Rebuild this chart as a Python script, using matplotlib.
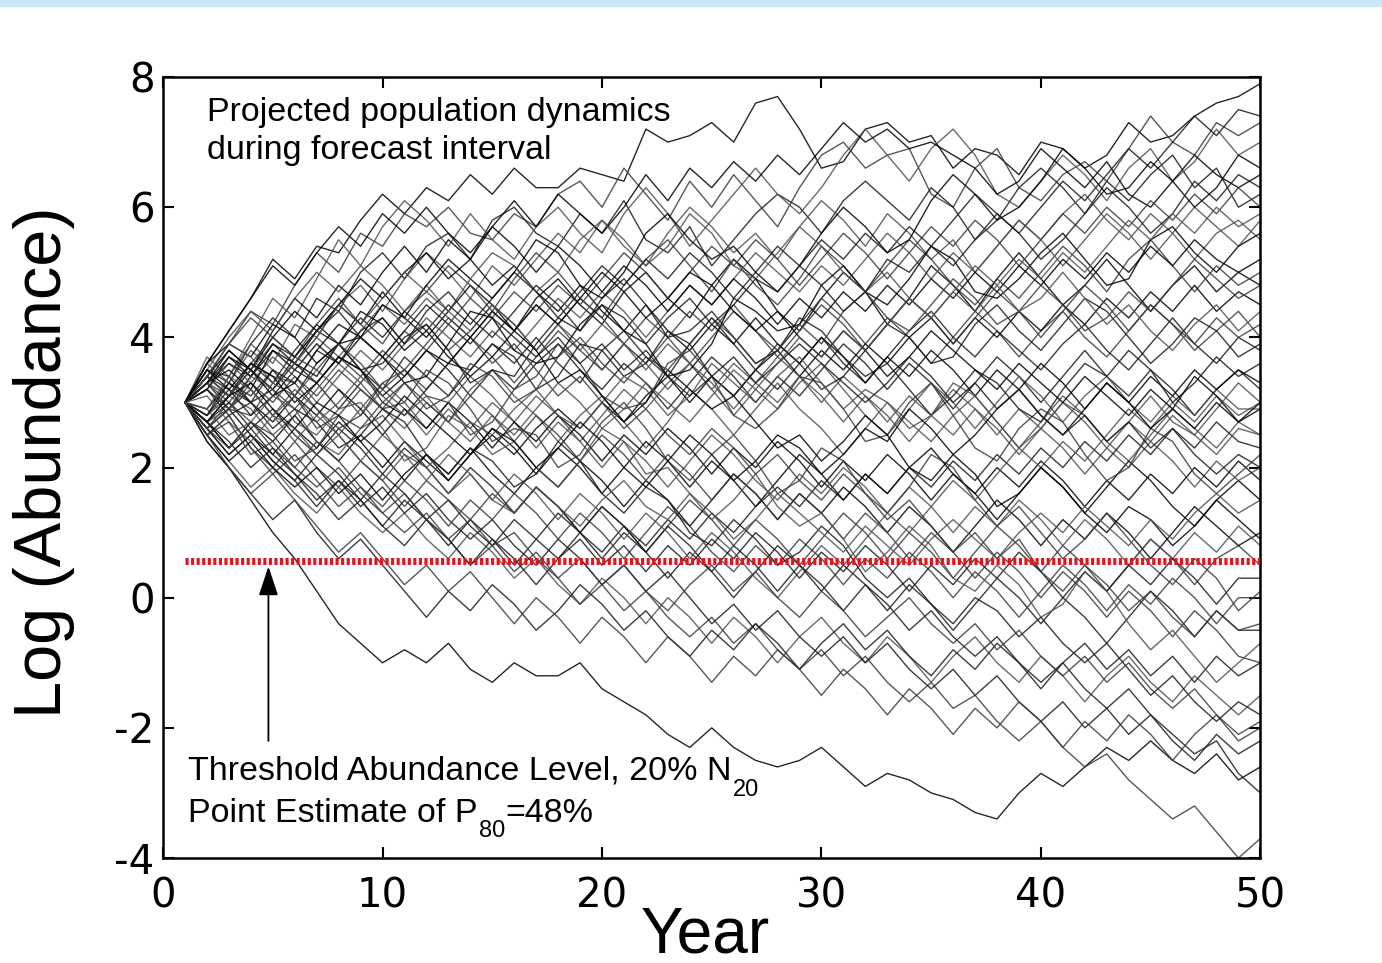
import matplotlib
matplotlib.use("Agg")
import matplotlib.pyplot as plt
from matplotlib.patches import Rectangle

plt.rcParams['font.family'] = ['Liberation Sans', 'DejaVu Sans']
plt.rcParams['axes.unicode_minus'] = False

# projected years of the forecast interval
years = list(range(1, 51))

# simulated log abundance trajectories (approx.)
run_01 = [3.0, 3.6, 4.1, 4.6, 5.2, 4.9, 5.4, 5.3, 5.8, 6.2,
          5.9, 6.3, 6.1, 6.5, 6.2, 6.6, 6.3, 6.3, 6.6, 6.5,
          6.4, 7.2, 7.0, 7.1, 7.3, 7.0, 7.6, 7.7, 7.2, 6.6,
          6.7, 7.2, 7.3, 7.0, 7.1, 6.6, 6.9, 6.8, 6.5, 7.0,
          6.9, 6.6, 6.8, 7.3, 7.0, 7.1, 7.4, 7.6, 7.7, 7.9]
run_02 = [3.0, 3.4, 3.9, 4.4, 4.2, 4.8, 5.3, 5.0, 5.6, 5.4,
          5.9, 5.7, 6.0, 5.6, 5.5, 5.9, 5.7, 6.2, 6.4, 6.0,
          6.6, 6.2, 5.8, 6.4, 6.0, 6.5, 6.1, 5.7, 6.3, 6.8,
          7.0, 6.6, 6.8, 6.9, 6.2, 6.0, 6.6, 6.9, 6.3, 6.1,
          6.5, 6.7, 6.4, 6.9, 7.4, 7.0, 6.8, 7.3, 7.1, 7.3]
run_03 = [3.0, 3.5, 3.3, 3.9, 4.3, 4.0, 4.6, 4.4, 5.0, 5.3,
          4.9, 5.4, 5.6, 5.2, 5.8, 6.0, 5.6, 5.4, 5.9, 5.6,
          6.1, 5.5, 5.3, 5.7, 5.1, 5.5, 5.9, 6.2, 6.0, 5.6,
          6.1, 6.4, 6.1, 5.8, 6.3, 6.0, 5.5, 5.8, 6.3, 6.6,
          6.3, 5.9, 6.4, 6.1, 6.5, 6.8, 6.3, 6.6, 6.0, 6.2]
run_04 = [3.0, 2.8, 3.4, 3.9, 3.6, 4.2, 4.0, 4.5, 4.8, 4.4,
          4.9, 5.3, 5.0, 4.6, 5.1, 4.8, 5.2, 5.6, 5.3, 5.8,
          5.5, 5.1, 5.6, 6.0, 5.7, 5.3, 5.6, 5.2, 5.7, 6.1,
          5.8, 5.4, 5.9, 5.6, 5.2, 5.5, 5.0, 5.4, 5.8, 5.5,
          5.9, 6.2, 5.8, 5.5, 5.9, 5.6, 5.2, 5.6, 5.8, 5.5]
run_05 = [3.0, 3.3, 3.7, 3.4, 3.9, 3.6, 4.1, 4.5, 4.2, 4.7,
          4.3, 4.0, 4.4, 4.8, 4.5, 4.1, 4.6, 4.9, 4.5, 4.2,
          4.7, 5.0, 4.6, 4.3, 4.8, 5.2, 4.9, 4.4, 4.1, 4.6,
          5.0, 4.7, 4.2, 4.6, 5.1, 4.8, 4.4, 4.9, 5.3, 4.9,
          4.5, 4.8, 5.2, 4.8, 4.4, 4.8, 5.1, 4.7, 5.0, 4.8]
run_06 = [3.0, 3.2, 2.9, 3.4, 3.8, 3.5, 3.9, 3.6, 4.0, 4.3,
          3.9, 4.2, 3.8, 4.1, 4.5, 4.2, 3.8, 4.2, 4.6, 4.3,
          3.9, 3.6, 4.0, 4.4, 4.1, 4.5, 4.1, 3.8, 4.2, 4.6,
          4.3, 3.9, 4.3, 4.0, 3.6, 4.0, 4.4, 4.1, 3.7, 4.1,
          4.4, 4.0, 3.7, 4.1, 4.5, 4.2, 3.8, 4.1, 4.4, 4.0]
run_07 = [3.0, 3.4, 3.1, 3.5, 3.2, 3.6, 3.3, 2.9, 3.3, 3.7,
          3.4, 3.8, 3.5, 3.1, 3.5, 3.2, 3.6, 3.9, 3.5, 3.2,
          3.6, 3.3, 2.9, 3.3, 3.7, 3.4, 3.0, 3.4, 3.1, 3.5,
          3.9, 3.6, 3.2, 3.6, 3.3, 2.9, 3.3, 3.7, 3.4, 3.0,
          3.4, 3.8, 3.4, 3.1, 3.5, 3.2, 2.8, 3.2, 3.5, 3.2]
run_08 = [3.0, 2.7, 3.1, 2.9, 2.5, 2.8, 3.2, 3.6, 3.3, 2.9,
          2.6, 3.0, 2.7, 3.2, 3.5, 3.1, 2.8, 2.4, 2.8, 3.1,
          2.7, 2.3, 2.7, 3.2, 2.9, 2.5, 2.9, 3.3, 2.9, 2.6,
          2.2, 2.6, 3.0, 2.7, 2.4, 2.8, 3.1, 2.7, 2.3, 2.7,
          3.1, 2.8, 2.4, 2.1, 2.5, 2.9, 2.6, 2.3, 2.7, 2.5]
run_09 = [3.0, 2.6, 2.9, 2.5, 2.2, 2.6, 2.3, 2.7, 2.4, 2.0,
          2.4, 2.1, 1.8, 2.2, 2.6, 2.3, 1.9, 2.3, 2.0, 1.6,
          2.0, 2.4, 2.1, 1.7, 2.1, 1.8, 1.4, 1.8, 2.2, 1.9,
          1.5, 1.9, 1.6, 2.0, 2.3, 1.9, 1.6, 1.2, 1.6, 2.0,
          1.7, 1.3, 1.7, 2.1, 1.8, 1.4, 1.1, 1.5, 1.8, 1.5]
run_10 = [3.0, 2.5, 2.8, 2.3, 2.0, 2.4, 2.0, 1.7, 2.1, 1.8,
          1.4, 1.8, 1.5, 1.2, 1.6, 1.3, 1.7, 1.4, 1.0, 1.4,
          1.1, 0.7, 1.1, 1.5, 1.2, 0.8, 1.2, 0.9, 0.5, 0.9,
          1.3, 1.0, 0.6, 1.0, 0.7, 0.3, 0.7, 1.1, 0.8, 0.4,
          0.8, 0.5, 0.1, 0.5, 0.9, 0.6, 0.2, 0.6, 0.8, 0.5]
run_11 = [3.0, 2.6, 2.2, 2.5, 2.1, 1.8, 2.2, 1.9, 1.5, 1.9,
          1.6, 1.2, 1.5, 1.1, 0.8, 1.2, 0.9, 1.3, 1.0, 0.6,
          1.0, 0.7, 0.3, 0.7, 0.4, 0.0, 0.4, 0.8, 0.5, 0.1,
          0.5, 0.2, -0.2, 0.2, -0.1, -0.5, -0.1, 0.3, 0.0, -0.4,
          0.0, -0.3, -0.7, -0.3, 0.1, -0.2, -0.6, -0.2, -0.5, -0.5]
run_12 = [3.0, 2.5, 2.1, 1.7, 2.0, 1.6, 1.3, 1.7, 1.3, 1.0,
          1.3, 0.9, 0.6, 1.0, 0.7, 0.3, 0.6, 0.2, -0.1, 0.3,
          0.0, -0.4, 0.0, -0.3, -0.7, -0.3, -0.6, -1.0, -0.6, -0.3,
          -0.7, -1.0, -0.6, -0.9, -1.3, -0.9, -0.6, -1.0, -1.3, -0.9,
          -1.2, -1.6, -1.2, -0.9, -1.3, -1.6, -1.2, -1.5, -1.8, -1.5]
run_13 = [3.0, 2.4, 2.0, 1.5, 1.0, 0.6, 0.1, -0.4, -0.7, -1.0,
          -0.8, -1.0, -0.7, -1.1, -1.3, -1.0, -1.2, -1.2, -1.0, -1.4,
          -1.6, -1.8, -2.1, -2.3, -2.0, -2.3, -2.5, -2.6, -2.5, -2.3,
          -2.6, -2.9, -2.7, -2.8, -3.0, -3.1, -3.3, -3.4, -3.0, -2.7,
          -2.9, -2.6, -2.3, -2.5, -2.2, -2.5, -2.7, -2.4, -2.8, -2.6]
run_14 = [3.0, 2.5, 2.8, 2.3, 1.9, 2.2, 1.8, 1.4, 1.7, 1.3,
          1.0, 1.3, 0.9, 0.5, 0.8, 0.4, 0.7, 0.3, -0.1, 0.2,
          -0.2, 0.1, -0.3, -0.6, -0.3, -0.7, -0.4, -0.8, -1.1, -0.8,
          -1.2, -0.9, -1.3, -1.6, -1.3, -1.7, -1.5, -1.9, -2.2, -1.9,
          -2.3, -2.6, -2.4, -2.8, -3.1, -3.4, -3.2, -3.6, -4.0, -3.7]
run_15 = [3.0, 2.7, 2.3, 2.6, 2.2, 1.9, 1.5, 1.8, 1.4, 1.7,
          1.3, 1.6, 1.2, 0.9, 1.2, 0.8, 0.5, 0.9, 0.6, 0.2,
          0.5, 0.1, 0.4, 0.0, -0.4, -0.1, -0.5, -0.2, -0.6, -0.9,
          -0.6, -1.0, -0.7, -1.1, -1.4, -1.1, -1.5, -1.2, -1.6, -1.9,
          -1.6, -2.0, -1.7, -2.1, -1.8, -2.2, -2.5, -2.1, -2.4, -2.2]
run_16 = [3.0, 3.7, 3.4, 4.0, 4.6, 4.3, 4.9, 5.5, 5.1, 5.7,
          6.1, 5.8, 5.4, 5.9, 5.5, 5.2, 5.7, 6.0, 5.6, 5.3,
          5.9, 6.3, 5.9, 5.4, 5.8, 6.2, 6.6, 6.2, 5.9, 6.3,
          6.8, 7.2, 6.8, 6.4, 6.9, 7.2, 6.8, 6.2, 6.0, 6.4,
          6.8, 6.5, 6.1, 6.6, 6.9, 6.4, 6.7, 7.2, 6.8, 7.0]
run_17 = [3.0, 3.3, 3.8, 3.5, 4.1, 4.6, 4.3, 4.8, 4.5, 5.0,
          5.4, 5.0, 5.5, 5.2, 5.7, 6.1, 5.7, 6.2, 5.9, 5.6,
          6.0, 6.5, 6.1, 6.6, 6.3, 6.7, 6.4, 6.8, 6.5, 6.9,
          7.3, 7.0, 7.2, 6.9, 7.0, 6.8, 6.6, 6.2, 6.4, 6.9,
          6.6, 6.3, 6.7, 6.2, 6.0, 6.4, 6.8, 6.5, 6.3, 6.5]
run_18 = [3.0, 3.4, 3.9, 4.3, 4.0, 3.7, 4.2, 4.6, 4.2, 3.9,
          4.4, 4.7, 5.1, 4.8, 4.4, 4.9, 5.3, 5.0, 4.6, 4.3,
          4.8, 5.2, 5.5, 5.1, 4.7, 5.2, 4.8, 4.5, 4.9, 5.4,
          5.1, 4.7, 5.1, 5.5, 5.2, 4.8, 4.5, 4.9, 4.6, 5.0,
          5.4, 5.1, 4.7, 5.2, 5.5, 5.1, 4.7, 5.1, 4.8, 5.0]
run_19 = [3.0, 2.8, 3.2, 3.0, 3.5, 3.1, 3.6, 3.9, 3.5, 3.2,
          3.7, 3.4, 3.1, 3.5, 3.9, 3.6, 4.0, 3.6, 3.3, 3.8,
          4.1, 3.7, 3.4, 3.9, 4.3, 3.9, 3.5, 3.2, 3.6, 4.0,
          3.6, 3.3, 3.7, 4.1, 4.4, 4.0, 3.7, 4.1, 3.8, 3.5,
          3.9, 4.2, 3.8, 3.5, 3.9, 4.3, 3.9, 3.6, 4.0, 3.8]
run_20 = [3.0, 3.3, 2.9, 3.2, 2.8, 3.2, 2.9, 2.5, 2.9, 3.3,
          3.0, 2.6, 3.0, 3.4, 3.1, 2.7, 3.1, 2.8, 2.4, 2.8,
          3.2, 2.9, 3.3, 3.6, 3.2, 2.8, 3.2, 2.9, 3.3, 3.6,
          3.2, 2.8, 2.5, 2.9, 3.3, 3.0, 2.6, 3.0, 3.4, 3.1,
          2.7, 3.1, 3.4, 3.0, 2.7, 3.1, 2.8, 3.2, 2.9, 2.9]
run_21 = [3.0, 2.7, 2.3, 2.7, 2.4, 2.8, 2.4, 2.1, 2.5, 2.2,
          1.8, 2.2, 1.9, 2.3, 1.9, 1.6, 2.0, 1.7, 2.1, 1.8,
          1.4, 1.8, 1.5, 1.1, 1.5, 1.9, 1.6, 1.2, 1.6, 1.3,
          1.7, 1.4, 1.0, 1.4, 1.1, 0.7, 1.1, 1.5, 1.2, 0.8,
          1.2, 0.9, 1.3, 1.0, 0.6, 1.0, 1.4, 1.1, 0.8, 1.0]
run_22 = [3.0, 2.6, 3.0, 2.7, 2.3, 2.0, 2.4, 2.1, 1.7, 1.4,
          1.8, 1.5, 1.1, 1.5, 1.2, 1.6, 1.3, 0.9, 1.3, 1.0,
          0.6, 1.0, 1.4, 1.1, 0.7, 0.4, 0.8, 0.5, 0.9, 0.6,
          0.2, 0.6, 0.3, 0.7, 0.4, 0.0, 0.4, 0.1, -0.3, 0.1,
          0.5, 0.2, -0.2, 0.2, -0.1, 0.3, 0.0, -0.4, 0.0, 0.0]
run_23 = [3.0, 2.4, 2.0, 1.6, 1.2, 1.5, 1.0, 0.6, 0.9, 0.5,
          0.1, -0.3, 0.1, -0.2, 0.2, -0.1, -0.5, -0.2, 0.2, -0.1,
          -0.5, -0.2, -0.6, -0.9, -0.5, -0.8, -0.4, -0.7, -1.1, -0.7,
          -0.4, -0.8, -0.5, -0.9, -1.2, -0.8, -1.1, -0.7, -1.0, -1.4,
          -1.0, -0.7, -1.1, -0.8, -1.2, -0.9, -1.3, -0.9, -1.2, -1.0]
run_24 = [3.0, 3.5, 4.0, 4.4, 4.1, 4.6, 5.0, 4.7, 5.1, 4.8,
          4.4, 4.8, 4.4, 4.1, 4.5, 4.2, 3.8, 4.2, 3.9, 3.5,
          3.9, 3.6, 3.2, 3.6, 3.3, 2.9, 3.3, 3.0, 3.4, 3.1,
          2.7, 3.1, 2.8, 2.4, 2.8, 2.5, 2.9, 2.6, 2.2, 2.6,
          2.3, 1.9, 2.3, 2.0, 2.4, 2.1, 1.7, 2.1, 1.8, 2.0]
run_25 = [3.0, 2.5, 2.1, 2.4, 2.0, 1.7, 2.0, 1.6, 1.9, 1.5,
          1.9, 2.2, 1.8, 2.2, 2.5, 2.2, 2.6, 2.9, 2.6, 3.0,
          2.7, 3.1, 3.4, 3.0, 3.4, 3.1, 3.5, 3.8, 3.4, 3.8,
          3.5, 3.9, 3.6, 4.0, 4.3, 3.9, 4.3, 4.0, 4.4, 4.1,
          4.5, 4.2, 4.6, 4.3, 4.7, 4.4, 4.8, 4.4, 4.7, 4.5]
run_26 = [3.0, 3.3, 3.0, 3.4, 3.8, 3.5, 3.9, 3.6, 4.0, 3.7,
          4.1, 3.8, 4.2, 4.6, 4.3, 4.7, 4.4, 4.8, 4.5, 4.9,
          5.3, 5.0, 4.6, 5.0, 5.4, 5.1, 5.5, 5.2, 4.8, 5.2,
          5.6, 5.3, 4.9, 5.3, 5.7, 5.4, 5.8, 5.5, 5.1, 5.5,
          5.9, 5.6, 6.0, 5.7, 6.1, 5.8, 6.2, 5.9, 6.3, 6.0]
run_27 = [3.0, 2.7, 3.0, 2.6, 2.9, 2.5, 2.2, 2.6, 2.3, 1.9,
          2.3, 2.0, 1.6, 2.0, 1.7, 1.3, 1.7, 1.4, 1.0, 1.4,
          1.1, 0.7, 1.1, 0.8, 0.4, 0.8, 0.5, 0.1, 0.5, 0.2,
          -0.2, 0.2, -0.1, -0.5, -0.2, -0.6, -0.9, -0.6, -1.0, -1.3,
          -1.0, -1.4, -1.7, -1.4, -1.8, -2.1, -2.4, -2.2, -2.7, -3.0]
run_28 = [3.0, 3.6, 3.3, 3.8, 3.5, 3.1, 3.5, 3.2, 2.8, 3.2,
          2.9, 2.5, 2.9, 2.6, 3.0, 2.7, 2.3, 2.7, 2.4, 2.0,
          2.4, 2.1, 1.7, 2.1, 2.5, 2.2, 1.8, 1.5, 1.9, 1.6,
          2.0, 1.7, 1.3, 1.7, 1.4, 1.0, 1.4, 1.1, 1.5, 1.2,
          0.8, 1.2, 0.9, 0.5, 0.9, 0.6, 1.0, 0.7, 1.1, 0.8]
run_29 = [3.0, 3.4, 3.8, 3.5, 4.0, 4.4, 4.1, 4.5, 4.9, 4.6,
          5.0, 5.3, 4.9, 5.2, 4.8, 5.1, 4.7, 4.4, 4.8, 4.4,
          4.1, 4.5, 4.1, 3.8, 4.2, 3.9, 4.3, 3.9, 3.6, 4.0,
          3.7, 3.3, 3.7, 3.4, 3.8, 3.5, 3.1, 3.5, 3.2, 3.6,
          3.3, 2.9, 3.3, 3.0, 3.4, 3.1, 3.5, 3.2, 3.5, 3.3]
run_30 = [3.0, 2.5, 2.0, 1.6, 1.9, 1.5, 1.1, 0.7, 1.0, 0.6,
          0.2, 0.5, 0.1, 0.4, 0.0, -0.4, 0.0, -0.3, -0.7, -0.3,
          -0.6, -1.0, -0.6, -0.9, -1.3, -0.9, -1.2, -0.8, -1.1, -1.5,
          -1.1, -1.4, -1.8, -1.4, -1.7, -2.1, -1.7, -2.0, -1.6, -1.9,
          -2.3, -1.9, -2.2, -1.8, -2.1, -2.5, -2.1, -1.8, -2.2, -2.0]
run_31 = [3.0, 3.4, 3.1, 3.6, 3.3, 3.8, 4.2, 3.9, 4.3, 4.0,
          4.4, 4.1, 4.5, 4.2, 4.6, 5.0, 4.7, 4.3, 4.7, 5.1,
          4.8, 5.2, 4.9, 5.3, 5.0, 4.6, 5.0, 5.4, 5.1, 5.5,
          5.2, 5.6, 5.3, 5.7, 5.4, 5.8, 6.2, 5.9, 5.6, 6.0,
          6.4, 6.1, 6.5, 6.9, 6.6, 7.0, 7.4, 7.1, 7.5, 7.4]
run_32 = [3.0, 3.2, 3.6, 3.3, 3.7, 3.4, 3.0, 3.4, 3.8, 3.5,
          3.9, 4.3, 4.0, 3.7, 4.1, 3.8, 4.2, 4.6, 4.3, 4.7,
          4.4, 4.0, 4.4, 4.8, 4.5, 4.9, 5.3, 5.0, 4.7, 5.1,
          4.8, 5.2, 5.6, 5.3, 4.9, 5.3, 5.0, 5.4, 5.8, 5.5,
          5.1, 5.5, 5.9, 5.6, 5.2, 5.6, 6.0, 5.7, 5.4, 5.8]
run_33 = [3.0, 2.9, 3.3, 3.0, 2.7, 3.1, 2.8, 3.2, 2.9, 2.5,
          2.9, 2.6, 3.0, 2.7, 2.3, 2.7, 2.4, 2.8, 2.5, 2.1,
          2.5, 2.2, 2.6, 2.3, 1.9, 2.3, 2.0, 2.4, 2.1, 1.7,
          2.1, 1.8, 2.2, 1.9, 1.5, 1.9, 1.6, 2.0, 1.7, 2.1,
          1.8, 1.4, 1.8, 1.5, 1.9, 1.6, 2.0, 1.7, 2.1, 1.8]
run_34 = [3.0, 2.7, 3.1, 3.5, 3.2, 2.9, 3.3, 3.7, 3.4, 3.8,
          3.5, 3.2, 3.6, 4.0, 3.7, 3.3, 3.7, 4.1, 3.8, 3.5,
          3.9, 4.3, 4.0, 3.6, 4.0, 4.4, 4.1, 3.7, 4.1, 4.5,
          4.2, 3.8, 4.2, 4.6, 4.3, 3.9, 4.3, 4.7, 4.4, 4.0,
          4.4, 4.8, 4.5, 4.1, 4.5, 4.2, 3.9, 4.3, 4.0, 4.2]
run_35 = [3.0, 2.6, 2.2, 2.5, 2.1, 1.8, 1.4, 1.8, 1.5, 1.1,
          1.5, 1.2, 0.8, 1.2, 0.9, 0.5, 0.9, 0.6, 1.0, 0.7,
          1.1, 0.8, 1.2, 0.9, 1.3, 1.0, 1.4, 1.7, 1.4, 1.8,
          1.5, 1.9, 1.6, 2.0, 1.7, 2.1, 1.8, 2.2, 1.9, 2.3,
          2.0, 2.4, 2.1, 2.5, 2.2, 2.6, 2.3, 2.7, 2.4, 2.3]
run_36 = [3.0, 3.3, 2.9, 3.2, 2.8, 2.4, 2.8, 2.5, 2.1, 2.5,
          2.2, 1.8, 2.2, 1.9, 1.5, 1.9, 1.6, 1.2, 1.6, 1.3,
          0.9, 1.3, 1.0, 0.6, 1.0, 0.7, 0.3, 0.0, 0.4, 0.8,
          0.5, 0.9, 1.3, 1.0, 1.4, 1.8, 1.5, 1.9, 2.3, 2.0,
          2.4, 2.1, 2.5, 2.9, 2.6, 3.0, 2.7, 3.1, 2.8, 3.0]
run_37 = [3.0, 3.6, 4.1, 4.6, 5.1, 4.8, 5.3, 5.7, 5.4, 5.9,
          5.6, 6.0, 5.6, 5.3, 5.7, 5.4, 5.0, 5.4, 5.1, 4.7,
          5.1, 4.8, 4.4, 4.8, 4.5, 4.9, 4.6, 4.2, 4.6, 4.3,
          4.7, 4.4, 4.8, 4.5, 4.9, 4.6, 5.0, 4.7, 5.1, 4.8,
          5.2, 4.9, 5.3, 5.0, 5.4, 5.1, 5.5, 5.2, 5.0, 5.2]
run_38 = [3.0, 3.2, 2.9, 3.3, 3.0, 3.4, 3.1, 3.5, 3.2, 2.9,
          3.3, 3.0, 2.7, 3.1, 2.8, 2.4, 2.8, 2.5, 2.1, 2.5,
          2.2, 1.8, 2.2, 1.9, 1.5, 1.9, 1.6, 1.2, 1.6, 1.3,
          0.9, 1.3, 1.0, 0.6, 1.0, 0.7, 0.3, 0.7, 0.4, 0.0,
          0.4, 0.1, -0.3, 0.1, -0.2, -0.6, -0.2, -0.5, -0.9, -1.0]
run_39 = [3.0, 2.7, 2.4, 2.0, 2.3, 1.9, 1.6, 1.2, 1.5, 1.1,
          0.8, 1.2, 0.9, 0.5, 0.9, 0.6, 0.2, 0.6, 0.9, 0.5,
          0.8, 0.4, 0.8, 0.5, 0.9, 0.6, 1.0, 0.7, 0.3, 0.7,
          0.4, 0.8, 0.5, 0.1, 0.5, 0.2, 0.6, 0.3, 0.7, 0.4,
          0.0, 0.4, 0.1, 0.5, 0.2, 0.6, 0.3, -0.1, 0.3, 0.3]
run_40 = [3.0, 3.4, 3.1, 3.5, 3.9, 3.6, 4.0, 3.7, 4.1, 4.5,
          4.2, 4.6, 4.3, 4.0, 4.4, 4.1, 4.5, 4.2, 3.8, 4.2,
          3.9, 3.5, 3.9, 3.6, 3.2, 3.6, 3.3, 3.7, 3.4, 3.0,
          3.4, 3.1, 2.7, 3.1, 2.8, 3.2, 2.9, 2.5, 2.9, 2.6,
          3.0, 2.7, 2.3, 2.7, 2.4, 2.8, 2.5, 2.2, 2.6, 2.5]
run_41 = [3.0, 3.3, 3.5, 3.2, 3.8, 3.6, 3.4, 3.9, 4.0, 3.7,
          3.3, 3.4, 3.9, 4.4, 4.3, 3.8, 3.6, 3.7, 4.2, 4.5,
          4.1, 3.9, 3.4, 3.5, 3.9, 4.6, 4.4, 4.1, 4.2, 4.8,
          5.1, 4.7, 4.5, 4.9, 5.4, 5.2, 4.7, 4.6, 4.9, 5.3,
          5.6, 5.2, 4.8, 4.9, 5.5, 5.7, 5.3, 5.0, 5.4, 5.6]
run_42 = [3.0, 2.8, 3.1, 3.6, 3.4, 3.3, 2.9, 2.6, 2.8, 3.3,
          3.5, 3.1, 3.0, 2.5, 2.7, 3.2, 3.4, 3.9, 3.6, 3.1,
          2.9, 3.0, 3.6, 3.8, 3.4, 2.8, 2.6, 2.9, 3.4, 3.3,
          2.9, 2.4, 2.5, 3.0, 3.3, 2.8, 2.3, 2.1, 2.6, 2.9,
          2.7, 2.2, 1.8, 2.0, 2.6, 2.4, 1.9, 1.6, 1.9, 2.2]
run_43 = [3.0, 3.5, 3.4, 3.0, 3.2, 3.7, 4.1, 3.9, 3.5, 3.6,
          4.0, 4.2, 3.8, 3.3, 3.5, 3.4, 3.9, 4.3, 4.1, 4.6,
          4.9, 4.5, 4.0, 4.1, 4.4, 4.0, 3.6, 3.8, 4.3, 4.1,
          3.7, 3.4, 3.6, 3.2, 2.8, 3.1, 3.5, 3.3, 2.9, 2.7,
          3.2, 3.6, 3.4, 3.8, 3.5, 3.0, 3.3, 3.7, 3.4, 3.6]
run_44 = [3.0, 2.7, 2.9, 3.4, 3.2, 2.7, 2.5, 2.9, 3.0, 2.6,
          2.1, 2.3, 2.8, 2.6, 2.2, 2.4, 2.0, 1.7, 2.1, 2.6,
          2.4, 1.9, 2.0, 1.6, 1.2, 1.5, 1.9, 1.4, 1.1, 1.3,
          0.9, 0.4, 0.7, 1.1, 0.8, 0.3, 0.1, 0.5, 0.2, -0.3,
          -0.1, 0.4, 0.1, -0.4, -0.8, -0.5, -0.9, -1.3, -1.0, -0.7]
run_45 = [3.0, 3.2, 3.7, 3.5, 3.1, 3.3, 3.8, 4.2, 4.0, 4.5,
          4.3, 4.8, 5.2, 4.9, 4.6, 5.0, 5.5, 5.3, 4.8, 4.6,
          5.0, 5.6, 5.9, 5.5, 5.2, 5.4, 5.0, 4.7, 5.1, 5.6,
          6.0, 5.7, 5.3, 5.5, 6.1, 6.5, 6.2, 5.8, 6.0, 6.4,
          6.9, 6.6, 6.2, 6.3, 6.7, 6.4, 6.0, 6.3, 6.8, 6.6]
run_46 = [3.0, 2.6, 2.9, 2.8, 3.3, 3.1, 2.6, 2.8, 3.2, 2.9,
          3.0, 3.5, 3.3, 2.9, 2.4, 2.6, 2.5, 2.0, 2.2, 2.7,
          3.0, 2.6, 2.1, 1.8, 2.2, 2.5, 2.1, 1.6, 1.8, 2.3,
          2.1, 1.6, 1.3, 1.7, 2.2, 2.0, 1.5, 1.1, 1.4, 1.0,
          0.6, 0.9, 1.3, 0.9, 0.5, 0.2, 0.6, 0.3, -0.2, 0.1]
run_47 = [3.0, 3.4, 3.2, 2.8, 3.1, 3.5, 3.3, 3.7, 3.5, 3.0,
          2.8, 3.2, 3.6, 3.5, 3.9, 3.7, 3.2, 3.4, 3.9, 3.8,
          3.4, 3.6, 4.1, 3.9, 3.4, 3.1, 3.5, 3.9, 3.6, 3.2,
          3.4, 3.8, 4.2, 4.0, 3.6, 3.7, 4.2, 4.5, 4.1, 3.8,
          4.2, 4.6, 4.4, 4.0, 3.6, 3.9, 4.3, 4.1, 3.7, 3.9]
run_48 = [3.0, 2.9, 2.5, 2.7, 3.1, 2.9, 2.4, 2.2, 2.6, 2.8,
          2.4, 2.0, 2.3, 2.7, 2.5, 2.9, 3.2, 2.8, 2.6, 3.0,
          3.4, 3.2, 2.8, 3.1, 3.6, 3.3, 3.0, 3.4, 3.7, 3.3,
          2.9, 3.2, 3.0, 2.6, 2.8, 3.3, 3.1, 2.7, 2.3, 2.6,
          3.0, 2.8, 2.4, 2.7, 3.1, 2.7, 2.5, 2.9, 3.3, 3.0]
run_49 = [3.0, 3.6, 3.9, 3.7, 4.2, 4.0, 3.6, 3.9, 4.4, 4.2,
          3.8, 4.1, 3.7, 3.4, 3.7, 4.1, 3.8, 3.3, 3.5, 3.1,
          2.7, 3.0, 3.5, 3.2, 2.9, 3.1, 2.7, 2.3, 2.5, 2.1,
          2.4, 2.8, 2.5, 2.0, 1.8, 2.2, 1.9, 1.4, 1.6, 2.0,
          1.7, 1.3, 1.0, 1.4, 1.2, 0.8, 1.1, 1.5, 1.2, 0.9]
run_50 = [3.0, 2.6, 2.3, 2.7, 2.5, 2.1, 2.3, 2.8, 2.6, 3.0,
          3.3, 2.9, 3.1, 3.6, 3.4, 3.0, 3.2, 3.7, 4.0, 3.6,
          3.3, 3.7, 3.5, 3.9, 4.3, 4.0, 3.6, 3.8, 4.2, 3.9,
          4.4, 4.7, 4.3, 4.1, 4.5, 4.9, 4.6, 4.2, 4.4, 4.8,
          4.5, 4.1, 4.3, 4.7, 4.4, 4.8, 5.2, 4.9, 4.6, 4.8]
run_51 = [3.0, 3.2, 2.8, 3.0, 2.6, 2.9, 2.7, 2.3, 2.5, 2.9,
          2.7, 2.2, 1.9, 2.3, 2.1, 1.7, 1.9, 2.4, 2.1, 1.6,
          1.3, 1.7, 1.5, 1.0, 0.8, 1.2, 0.9, 0.5, 0.7, 1.1,
          0.8, 0.3, 0.0, 0.3, -0.1, -0.4, 0.0, -0.2, -0.6, -0.3,
          -0.7, -1.0, -0.7, -1.1, -1.5, -1.2, -1.6, -1.9, -1.6, -1.8]
run_52 = [3.0, 3.4, 3.9, 3.7, 3.3, 3.6, 4.0, 4.5, 4.2, 4.6,
          5.0, 4.7, 4.4, 4.9, 5.3, 5.1, 4.7, 5.0, 5.5, 5.8,
          5.4, 5.1, 5.4, 5.9, 5.6, 5.1, 4.9, 5.3, 5.7, 5.4,
          5.0, 4.7, 5.0, 4.6, 4.3, 4.7, 5.1, 4.8, 4.4, 4.6,
          5.0, 4.6, 4.2, 4.5, 4.1, 3.8, 4.2, 4.5, 4.1, 4.4]
run_53 = [3.0, 2.7, 3.1, 3.3, 2.9, 2.6, 3.0, 2.8, 2.4, 2.7,
          3.1, 2.8, 2.5, 2.2, 2.6, 2.4, 2.0, 2.3, 2.7, 2.4,
          2.0, 1.7, 2.1, 2.5, 2.2, 1.8, 2.1, 2.5, 2.3, 1.9,
          2.2, 2.6, 2.4, 2.9, 2.6, 2.2, 2.5, 2.9, 3.2, 2.8,
          2.5, 2.9, 3.3, 3.0, 2.6, 2.9, 3.4, 3.1, 2.7, 3.0]
run_54 = [3.0, 3.3, 3.1, 3.6, 4.0, 3.7, 3.5, 3.9, 3.6, 3.2,
          3.5, 3.9, 4.3, 4.0, 3.6, 3.9, 3.5, 3.1, 3.4, 3.0,
          2.6, 2.9, 2.5, 2.2, 2.6, 2.3, 1.9, 2.2, 1.8, 1.5,
          1.9, 1.6, 1.2, 1.5, 1.1, 0.7, 1.0, 0.6, 0.9, 0.4,
          0.1, 0.5, 0.2, -0.2, 0.1, -0.3, -0.6, -0.2, -0.5, -0.4]
run_55 = [3.0, 2.8, 3.3, 3.1, 3.5, 3.3, 3.8, 3.6, 4.1, 4.3,
          3.9, 4.4, 4.7, 4.3, 4.0, 4.4, 4.8, 4.5, 4.1, 4.5,
          4.3, 3.9, 4.3, 4.6, 4.2, 4.5, 4.9, 4.7, 5.1, 4.8,
          4.4, 4.7, 5.2, 5.0, 5.4, 5.1, 5.5, 5.9, 5.6, 5.2,
          5.5, 5.9, 6.3, 6.0, 5.6, 5.9, 6.4, 6.1, 6.5, 6.3]
run_56 = [3.0, 3.1, 2.7, 2.4, 2.8, 2.6, 2.2, 2.5, 2.1, 1.8,
          2.2, 2.0, 1.6, 1.9, 1.5, 1.3, 1.7, 1.4, 1.1, 1.5,
          1.8, 1.4, 1.2, 1.6, 1.3, 0.9, 1.2, 1.6, 1.3, 1.0,
          0.7, 1.1, 0.8, 0.5, 0.9, 1.2, 0.9, 0.6, 1.0, 1.3,
          1.0, 1.4, 1.1, 0.8, 1.2, 0.9, 1.3, 1.6, 1.3, 1.5]
run_57 = [3.0, 3.5, 3.2, 3.6, 3.4, 3.0, 3.3, 3.7, 3.5, 3.1,
          3.4, 3.8, 3.6, 4.0, 4.4, 4.1, 4.5, 4.2, 4.6, 5.0,
          4.7, 4.3, 4.6, 5.0, 4.8, 4.4, 4.1, 4.4, 4.0, 3.7,
          4.1, 3.8, 3.4, 3.7, 4.1, 3.8, 3.5, 3.2, 3.6, 3.3,
          3.0, 3.4, 3.1, 2.8, 3.2, 2.9, 2.6, 3.0, 2.7, 2.9]
run_58 = [3.0, 2.5, 2.7, 2.2, 2.4, 2.0, 1.7, 2.0, 1.6, 1.3,
          1.6, 1.2, 0.9, 1.2, 0.8, 1.0, 0.6, 0.3, 0.6, 0.2,
          0.5, 0.1, -0.2, 0.2, 0.5, 0.1, 0.4, 0.0, -0.3, 0.1,
          -0.2, -0.6, -0.3, 0.0, -0.4, -0.7, -0.4, -0.8, -0.5, -0.9,
          -1.2, -0.9, -1.3, -1.0, -1.4, -1.7, -1.4, -1.8, -2.1, -1.9]
run_59 = [3.0, 3.3, 3.6, 3.4, 3.9, 3.7, 4.1, 4.4, 4.0, 3.7,
          4.1, 4.5, 4.2, 3.9, 4.3, 4.0, 3.7, 4.0, 3.6, 3.9,
          3.5, 3.8, 3.4, 3.1, 3.4, 3.7, 3.3, 3.6, 3.9, 3.6,
          3.3, 3.0, 3.3, 3.7, 3.4, 3.0, 3.3, 2.9, 3.2, 2.8,
          2.5, 2.8, 2.4, 2.7, 2.3, 2.6, 2.2, 1.9, 2.2, 2.0]
run_60 = [3.0, 2.9, 3.4, 3.2, 2.8, 3.1, 2.7, 3.0, 3.4, 3.1,
          2.8, 3.1, 2.7, 2.4, 2.8, 2.5, 2.9, 3.3, 3.0, 2.6,
          2.9, 3.3, 3.0, 2.7, 3.1, 3.5, 3.2, 3.6, 4.0, 3.7,
          4.1, 3.8, 4.2, 4.6, 4.3, 4.7, 4.4, 4.8, 5.2, 4.9,
          5.3, 5.0, 5.4, 5.8, 5.5, 5.9, 5.6, 6.0, 5.7, 5.9]

runs = [run_01, run_02, run_03, run_04, run_05, run_06, run_07, run_08,
        run_09, run_10, run_11, run_12, run_13, run_14, run_15, run_16,
        run_17, run_18, run_19, run_20, run_21, run_22, run_23, run_24,
        run_25, run_26, run_27, run_28, run_29, run_30, run_31, run_32,
        run_33, run_34, run_35, run_36, run_37, run_38, run_39, run_40,
        run_41, run_42, run_43, run_44, run_45, run_46, run_47, run_48,
        run_49, run_50, run_51, run_52, run_53, run_54, run_55, run_56,
        run_57, run_58, run_59, run_60]

threshold = 0.57
arrow_year = 4.8
arrow_tip = 0.48
arrow_tail = -2.2

bad = [i + 1 for i, r in enumerate(runs) if len(r) != len(years)]
if bad:
    raise ValueError("wrong length in runs: %s" % bad)

fig = plt.figure(figsize=(13.82, 9.63), dpi=100)
fig.patches.append(Rectangle((0, 1 - 6 / 963), 1, 6 / 963, transform=fig.transFigure,
                             color='#cce9fb', zorder=0))
ax = fig.add_axes([0.118, 0.109, 0.794, 0.811])

greys = ['#000000', '#3a3a3a', '#1a1a1a', '#505050']
for i, r in enumerate(runs):
    ax.plot(years, r, color=greys[i % 4], lw=1.0, alpha=0.85, zorder=2)

ax.plot([years[0], years[-1]], [threshold, threshold], color='#e3141c',
        lw=5, linestyle=(0, (0.45, 0.35)), zorder=4)

ax.annotate('', xy=(arrow_year, arrow_tip), xytext=(arrow_year, arrow_tail),
            arrowprops=dict(arrowstyle='-|>,head_length=0.9,head_width=0.3',
                            color='black', lw=1.3, shrinkA=0, shrinkB=0,
                            mutation_scale=20),
            zorder=5)

ax.text(2.0, 7.70, 'Projected population dynamics\nduring forecast interval',
        fontsize=24.5, va='top', ha='left', linespacing=1.29)

# threshold note, with hand-placed subscripts
t1 = ax.text(1.15, -2.8, 'Threshold Abundance Level, 20% N',
             fontsize=24.5, va='baseline', ha='left')
ax.annotate('20', xy=(1, 0), xycoords=t1, xytext=(1, 6), textcoords='offset points',
            fontsize=17, va='top', ha='left')
t2 = ax.text(1.15, -3.44, 'Point Estimate of P',
             fontsize=24.5, va='baseline', ha='left')
s2 = ax.annotate('80', xy=(1, 0), xycoords=t2, xytext=(1, 6), textcoords='offset points',
                 fontsize=17, va='top', ha='left')
ax.annotate('=48%', xy=(1, 0), xycoords=(s2, t2), xytext=(0, 0),
            textcoords='offset points', fontsize=24.5, va='bottom', ha='left')

ax.set_xlim(0, 50)
ax.set_ylim(-4, 8)
ax.set_xticks([0, 10, 20, 30, 40, 50])
ax.set_yticks([-4, -2, 0, 2, 4, 6, 8])
ax.tick_params(direction='in', length=8, width=1.5, top=True, right=True)
ax.tick_params(axis='y', pad=6)
ax.tick_params(axis='x', pad=13)
for lab in ax.get_xticklabels() + ax.get_yticklabels():
    lab.set_fontfamily('DejaVu Sans')
    lab.set_fontsize(29)
for s in ax.spines.values():
    s.set_linewidth(1.8)

ax.set_xlabel('Year', fontsize=46)
ax.xaxis.set_label_coords(0.494, -0.061)
ax.set_ylabel('Log (Abundance)', fontsize=48)
ax.yaxis.set_label_coords(-0.080, 0.507)

fig.savefig('out.png', dpi=100)
